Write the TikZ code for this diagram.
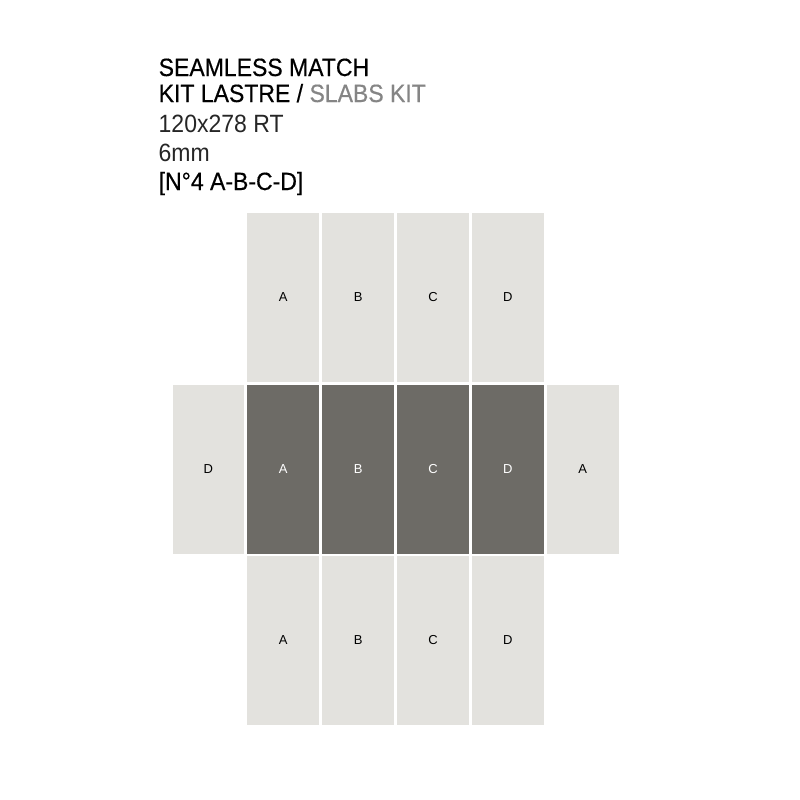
\documentclass[tikz,border=0pt]{standalone}
\usepackage{fontspec}
\setmainfont{Liberation Sans}
\newfontfamily\hdfont[FakeStretch=0.92,FakeBold=0.4]{Liberation Sans}
\newfontfamily\hdlight[FakeStretch=0.92]{Liberation Sans}
\definecolor{tilelight}{HTML}{E3E2DE}
\definecolor{tiledark}{HTML}{6D6B66}
\definecolor{slabgrey}{HTML}{858585}
\tikzset{
  tilebox/.style={rectangle, inner sep=0pt, minimum width=71.6pt, minimum height=169pt, fill=tilelight, text=black, font=\fontsize{13}{15}\selectfont},
  darkbox/.style={tilebox, fill=tiledark, text=white},
  headline/.style={anchor=base west, inner sep=0pt, font=\hdfont\fontsize{25}{28}\selectfont},
  headlight/.style={headline, font=\hdlight\fontsize{25}{28}\selectfont, text=black!85},
}
\begin{document}
\begin{tikzpicture}[x=1pt,y=-1pt]
\useasboundingbox (0,0) rectangle (800,800);
\fill[white] (0,0) rectangle (800,800);
% heading
\node[headline] (t1) at (158.5,76) {SEAMLESS MATCH};
\node[headline] (t2) at (158.5,102) {KIT LASTRE / \textcolor{slabgrey}{SLABS KIT}};
\node[headlight] (t3) at (158.5,132) {120x278 RT};
\node[headlight] (t4) at (158.5,161.5) {6mm};
\node[headline] (t5) at (158.5,190) {[N°4 A-B-C-D]};
% top row
\node[tilebox] (ta) at (283.2,297.5) {A};
\node[tilebox] (tb) at (358.1,297.5) {B};
\node[tilebox] (tc) at (433.0,297.5) {C};
\node[tilebox] (td) at (507.9,297.5) {D};
% middle row
\node[tilebox] (ml) at (208.3,469) {D};
\node[darkbox] (ma) at (283.2,469) {A};
\node[darkbox] (mb) at (358.1,469) {B};
\node[darkbox] (mc) at (433.0,469) {C};
\node[darkbox] (md) at (507.9,469) {D};
\node[tilebox] (mr) at (582.8,469) {A};
% bottom row
\node[tilebox] (ba) at (283.2,640) {A};
\node[tilebox] (bb) at (358.1,640) {B};
\node[tilebox] (bc) at (433.0,640) {C};
\node[tilebox] (bd) at (507.9,640) {D};
\end{tikzpicture}
\end{document}
